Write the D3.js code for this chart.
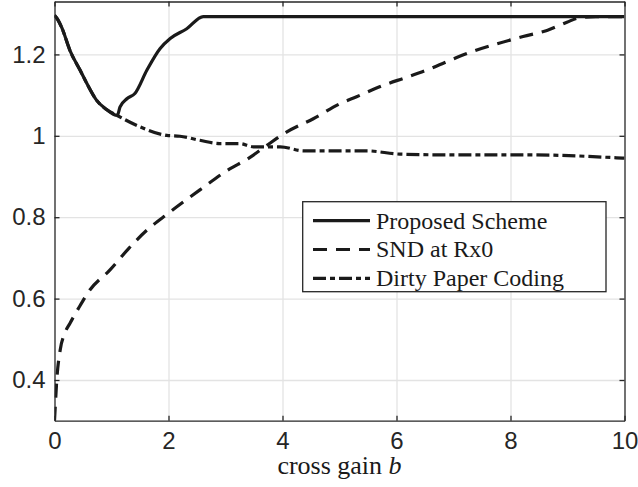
<!DOCTYPE html>
<html lang="en">
<head>
  <meta charset="utf-8">
  <script src="https://d3js.org/d3.v7.min.js"></script>
  <title>cross gain b</title>
  <style>
    body { margin: 0; background: #fff; }
    .axis path, .axis line { stroke: #262626; stroke-width: 1.3; }
    .axis text { font-family: "Liberation Sans", Arial, sans-serif; font-size: 24px; fill: #262626; }
    .grid line { stroke: #e3e3e3; stroke-width: 1.3; }
    .grid path { display: none; }
    .curve { fill: none; stroke: #1a1a1a; stroke-width: 3.2; stroke-linejoin: round; }
    .leg text { font-family: "Liberation Serif", "Times New Roman", serif; font-size: 24px; fill: #1a1a1a; }
  </style>
</head>
<body>
<svg width="638" height="487" id="chart"></svg>
<script>
// values
var xTicks = [0, 2, 4, 6, 8, 10];
var yTicks = [0.4, 0.6, 0.8, 1, 1.2];
var yTickLabels = ["0.4", "0.6", "0.8", "1", "1.2"];

var seriesNames = ["Proposed Scheme", "SND at Rx0", "Dirty Paper Coding"];

// Proposed Scheme
var propX = [0, 0.06, 0.13, 0.27, 0.45, 0.6, 0.74, 0.9, 1.1, 1.15, 1.27, 1.41, 1.62, 1.85, 2.03, 2.32, 2.61, 3, 4, 5, 6, 7, 8, 9, 10];
var propY = [1.296, 1.285, 1.265, 1.21, 1.161, 1.12, 1.087, 1.066, 1.05, 1.071, 1.091, 1.104, 1.161, 1.214, 1.239, 1.263, 1.293, 1.293, 1.293, 1.293, 1.293, 1.293, 1.293, 1.293, 1.293];

// SND at Rx0
var sndX = [0, 0.01, 0.04, 0.1, 0.18, 0.27, 0.42, 0.62, 0.97, 1.3, 1.62, 2.0, 2.58, 3.02, 3.43, 3.72, 4.07, 4.54, 5.01, 5.3, 5.77, 6.18, 6.59, 7.0, 7.35, 7.76, 8.22, 8.64, 8.99, 9.2, 9.5, 10];
var sndY = [0.3, 0.326, 0.40, 0.474, 0.515, 0.539, 0.576, 0.621, 0.670, 0.723, 0.768, 0.81, 0.870, 0.914, 0.947, 0.976, 1.009, 1.042, 1.079, 1.096, 1.124, 1.144, 1.165, 1.189, 1.208, 1.226, 1.244, 1.259, 1.279, 1.290, 1.293, 1.293];

// Dirty Paper Coding
var dpcX = [0, 0.06, 0.13, 0.27, 0.45, 0.6, 0.74, 0.9, 1.1, 1.5, 1.97, 2.2, 2.55, 2.9, 3.25, 3.49, 3.96, 4.37, 5.48, 6.06, 7, 8.4, 9.86, 10];
var dpcY = [1.296, 1.285, 1.265, 1.21, 1.161, 1.12, 1.087, 1.066, 1.05, 1.022, 1.001, 0.999, 0.989, 0.981, 0.981, 0.973, 0.973, 0.963, 0.963, 0.955, 0.953, 0.953, 0.946, 0.945];

var dashes = [null, "14,9", "13,4,5,4"];

var svg = d3.select("#chart");
var padL = 54.5, padR = 624.5, padT = 1.5, padB = 420.7;

var x = d3.scaleLinear().domain([0, 10]).range([padL, padR]);
var y = d3.scaleLinear().domain([0.3, 1.33]).range([padB, padT]);

// grid
svg.append("g").attr("class", "grid")
  .attr("transform", "translate(0," + padB + ")")
  .call(d3.axisBottom(x).tickValues(xTicks.slice(1, -1)).tickSize(-(padB - padT)).tickFormat(""));
svg.append("g").attr("class", "grid")
  .attr("transform", "translate(" + padL + ",0)")
  .call(d3.axisLeft(y).tickValues(yTicks).tickSize(-(padR - padL)).tickFormat(""));

// curves
var line = d3.line().curve(d3.curveMonotoneX)
  .x(function(d) { return x(d[0]); }).y(function(d) { return y(d[1]); });
var data = [d3.zip(propX, propY), d3.zip(sndX, sndY), d3.zip(dpcX, dpcY)];

svg.append("defs").append("clipPath").attr("id", "clip")
  .append("rect").attr("x", padL).attr("y", padT).attr("width", padR - padL).attr("height", padB - padT);

var plot = svg.append("g").attr("clip-path", "url(#clip)");
[2, 1, 0].forEach(function(i) {
  plot.append("path").attr("class", "curve")
    .attr("d", line(data[i]))
    .attr("stroke-dasharray", dashes[i]);
});

// axes, ticks inward, box on
svg.append("g").attr("class", "axis")
  .attr("transform", "translate(0," + padB + ")")
  .call(d3.axisBottom(x).tickValues(xTicks).tickSizeInner(-5).tickSizeOuter(0).tickPadding(11));
svg.append("g").attr("class", "axis")
  .attr("transform", "translate(0," + padT + ")")
  .call(d3.axisTop(x).tickValues(xTicks).tickSizeInner(-5).tickSizeOuter(0).tickFormat(""));
svg.append("g").attr("class", "axis")
  .attr("transform", "translate(" + padL + ",0)")
  .call(d3.axisLeft(y).tickValues(yTicks).tickSizeInner(-5).tickSizeOuter(0).tickPadding(9)
    .tickFormat(function(d, i) { return yTickLabels[i]; }));
svg.append("g").attr("class", "axis")
  .attr("transform", "translate(" + padR + ",0)")
  .call(d3.axisRight(y).tickValues(yTicks).tickSizeInner(-5).tickSizeOuter(0).tickFormat(""));

// x label
var xl = svg.append("text")
  .attr("x", (padL + padR) / 2).attr("y", 474)
  .attr("text-anchor", "middle")
  .style("font-family", "'Liberation Serif', 'Times New Roman', serif")
  .style("font-size", "26px").style("fill", "#1a1a1a");
xl.append("tspan").text("cross gain ");
xl.append("tspan").style("font-style", "italic").text("b");

// legend
var leg = svg.append("g").attr("class", "leg");
leg.append("rect")
  .attr("x", 302.7).attr("y", 201.7).attr("width", 303.3).attr("height", 90)
  .attr("fill", "#fff").attr("stroke", "#262626").attr("stroke-width", 1.3);
var rows = leg.selectAll("g.row").data(seriesNames).enter().append("g")
  .attr("class", "row")
  .attr("transform", function(d, i) { return "translate(0," + (220.7 + i * 28.8) + ")"; });
rows.append("line")
  .attr("x1", 313).attr("x2", 370).attr("y1", 0).attr("y2", 0)
  .attr("class", "curve")
  .attr("stroke-dasharray", function(d, i) { return dashes[i]; });
rows.append("text")
  .attr("x", 376).attr("y", 0).attr("dy", "0.33em")
  .text(function(d) { return d; });
</script>
</body>
</html>
